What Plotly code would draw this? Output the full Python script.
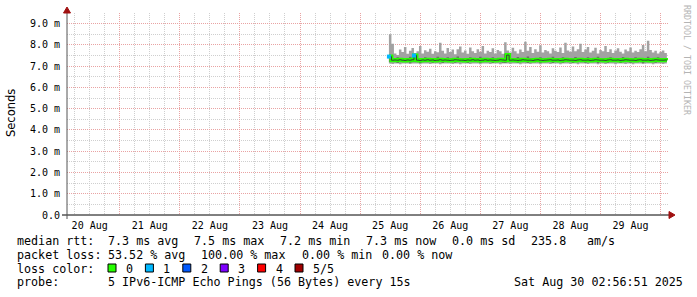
import plotly.graph_objects as go
import pandas as pd

# ---------------- data ----------------
series_start = "2025-08-25 11:30"
range_start = "2025-08-20 02:56:51"
range_end = "2025-08-30 02:56:51"

upper = [8.50, 8.05, 7.60, 7.52, 7.78, 7.66, 7.90, 7.58, 7.72, 7.85,
         7.62, 7.70, 7.95, 7.60, 7.75, 7.68, 7.82, 7.58, 7.70, 7.65,
         8.10, 7.72, 7.60, 7.85, 7.66, 7.78, 7.56, 7.80, 7.92, 7.64,
         7.74, 7.58, 7.88, 7.70, 7.62, 7.80, 7.68, 7.95, 7.60, 7.72,
         7.66, 7.84, 7.60, 7.76, 7.70, 7.58, 8.12, 7.74, 7.64, 7.86,
         7.70, 7.60, 7.78, 7.66, 8.15, 7.72, 7.90, 7.62, 7.80, 7.68,
         7.98, 7.64, 7.76, 7.70, 7.60, 7.84, 7.72, 7.66, 7.88, 7.62,
         8.10, 7.74, 7.68, 7.92, 7.70, 7.80, 8.05, 7.66, 7.78, 7.90,
         7.64, 7.72, 7.86, 7.60, 7.76, 7.70, 7.95, 7.66, 7.80, 7.62,
         7.74, 7.84, 7.68, 7.60, 7.78, 7.70, 7.88, 7.64, 7.72, 7.66,
         7.80, 8.00, 7.70, 8.20, 7.76, 7.64, 7.72, 7.60, 7.68, 7.74,
         7.62, 7.68]
lower = [7.12, 7.10, 7.13, 7.12, 7.09, 7.13, 7.12, 7.12, 7.10, 7.13,
         7.12, 7.13, 7.09, 7.12, 7.12, 7.13, 7.10, 7.12, 7.13, 7.12,
         7.09, 7.12, 7.13, 7.12, 7.12, 7.10, 7.13, 7.12, 7.09, 7.12,
         7.13, 7.12, 7.10, 7.12, 7.13, 7.12, 7.09, 7.12, 7.13, 7.12,
         7.10, 7.12, 7.13, 7.12, 7.09, 7.12, 7.12, 7.13, 7.10, 7.12,
         7.13, 7.12, 7.09, 7.12, 7.13, 7.12, 7.10, 7.12, 7.13, 7.12,
         7.09, 7.12, 7.13, 7.12, 7.10, 7.12, 7.13, 7.12, 7.09, 7.12,
         7.13, 7.12, 7.10, 7.12, 7.13, 7.09, 7.12, 7.13, 7.12, 7.10,
         7.12, 7.13, 7.12, 7.09, 7.12, 7.13, 7.10, 7.12, 7.12, 7.13,
         7.09, 7.12, 7.13, 7.12, 7.10, 7.12, 7.13, 7.09, 7.12, 7.12,
         7.13, 7.10, 7.12, 7.13, 7.12, 7.09, 7.12, 7.13, 7.12, 7.10,
         7.12, 7.13]
inner_hi = [7.45, 7.37, 7.36, 7.42, 7.36, 7.37, 7.36, 7.36, 7.44, 7.36,
            7.55, 7.37, 7.36, 7.36, 7.42, 7.36, 7.37, 7.36, 7.36, 7.44,
            7.37, 7.36, 7.36, 7.42, 7.36, 7.37, 7.36, 7.45, 7.36, 7.36,
            7.37, 7.36, 7.42, 7.36, 7.36, 7.37, 7.44, 7.36, 7.36, 7.37,
            7.36, 7.42, 7.36, 7.36, 7.37, 7.36, 7.58, 7.62, 7.36, 7.37,
            7.36, 7.43, 7.36, 7.36, 7.37, 7.45, 7.36, 7.36, 7.37, 7.36,
            7.42, 7.36, 7.36, 7.37, 7.36, 7.44, 7.36, 7.36, 7.37, 7.42,
            7.36, 7.36, 7.37, 7.36, 7.43, 7.36, 7.36, 7.37, 7.36, 7.42,
            7.36, 7.36, 7.37, 7.44, 7.36, 7.36, 7.37, 7.36, 7.42, 7.36,
            7.36, 7.37, 7.36, 7.43, 7.36, 7.36, 7.37, 7.36, 7.42, 7.36,
            7.36, 7.37, 7.36, 7.44, 7.36, 7.36, 7.37, 7.42, 7.36, 7.36,
            7.37, 7.36]
inner_lo = [7.20, 7.19, 7.20, 7.15, 7.20, 7.19, 7.20, 7.20, 7.16, 7.20,
            7.19, 7.20, 7.15, 7.20, 7.20, 7.19, 7.20, 7.16, 7.20, 7.20,
            7.19, 7.15, 7.20, 7.20, 7.19, 7.20, 7.16, 7.20, 7.20, 7.19,
            7.20, 7.15, 7.20, 7.19, 7.20, 7.20, 7.16, 7.20, 7.19, 7.20,
            7.20, 7.15, 7.20, 7.19, 7.20, 7.16, 7.15, 7.20, 7.19, 7.20,
            7.20, 7.16, 7.20, 7.19, 7.20, 7.15, 7.20, 7.20, 7.19, 7.20,
            7.16, 7.20, 7.19, 7.20, 7.20, 7.15, 7.20, 7.19, 7.20, 7.16,
            7.20, 7.20, 7.19, 7.15, 7.20, 7.20, 7.19, 7.20, 7.16, 7.20,
            7.19, 7.20, 7.20, 7.15, 7.20, 7.19, 7.20, 7.16, 7.20, 7.20,
            7.19, 7.20, 7.15, 7.20, 7.20, 7.19, 7.16, 7.20, 7.20, 7.19,
            7.20, 7.15, 7.20, 7.19, 7.20, 7.20, 7.16, 7.20, 7.19, 7.20,
            7.20, 7.19]
median = [7.45, 7.28, 7.29, 7.28, 7.30, 7.28, 7.27, 7.29, 7.28, 7.30,
          7.50, 7.28, 7.27, 7.29, 7.28, 7.30, 7.28, 7.29, 7.27, 7.28,
          7.30, 7.28, 7.29, 7.28, 7.27, 7.28, 7.30, 7.29, 7.28, 7.28,
          7.27, 7.29, 7.28, 7.30, 7.28, 7.29, 7.27, 7.28, 7.30, 7.28,
          7.29, 7.28, 7.27, 7.28, 7.30, 7.29, 7.28, 7.52, 7.28, 7.29,
          7.28, 7.27, 7.28, 7.30, 7.29, 7.28, 7.28, 7.27, 7.29, 7.30,
          7.28, 7.27, 7.28, 7.29, 7.30, 7.28, 7.28, 7.29, 7.27, 7.28,
          7.30, 7.29, 7.28, 7.28, 7.27, 7.29, 7.30, 7.28, 7.28, 7.29,
          7.27, 7.28, 7.30, 7.29, 7.28, 7.28, 7.27, 7.29, 7.30, 7.28,
          7.28, 7.29, 7.27, 7.28, 7.30, 7.29, 7.28, 7.28, 7.27, 7.29,
          7.30, 7.28, 7.28, 7.29, 7.27, 7.28, 7.30, 7.29, 7.28, 7.28,
          7.29, 7.28]
loss = [1, 0, 0, 0, 0, 0, 0, 0, 0, 0, 1] + [0] * 101

y_tick_vals = [0, 1, 2, 3, 4, 5, 6, 7, 8, 9]
y_tick_text = ["0.0", "1.0 m", "2.0 m", "3.0 m", "4.0 m", "5.0 m",
               "6.0 m", "7.0 m", "8.0 m", "9.0 m"]

loss_labels = ["0", "1", "2", "3", "4", "5/5"]
loss_colors = ["#26ff00", "#00b8ff", "#0059ff", "#7e00ff", "#ff0000", "#a00000"]

legend_rows = [
    [("median rtt:", 16), ("7.3 ms avg", 107), ("7.5 ms max", 193),
     ("7.2 ms min", 279), ("7.3 ms now", 365), ("0.0 ms sd", 451),
     ("235.8", 530), ("am/s", 586)],
    [("packet loss:", 16), ("53.52 % avg", 107), ("100.00 % max", 200),
     ("0.00 % min", 301), ("0.00 % now", 381)],
    [("loss color:", 16)],
    [("probe:", 16), ("5 IPv6-ICMP Echo Pings (56 Bytes) every 15s", 107),
     ("Sat Aug 30 02:56:51 2025", 513)],
]

times = pd.date_range(series_start, periods=len(median), freq="60min")

# ---------------- geometry helpers ----------------
W, H = 697, 297
L, R, T, B = 67, 29, 13, 82
PW, PH = W - L - R, H - T - B


def px(x):
    return (x - L) / PW


def py(y):
    return (H - B - y) / PH


MONO = "DejaVu Sans Mono"
fig = go.Figure()

# outer smoke
fig.add_trace(go.Scatter(x=times, y=lower, mode="lines", line=dict(width=0, shape="hv"),
                         showlegend=False, hoverinfo="skip"))
fig.add_trace(go.Scatter(x=times, y=upper, mode="lines", line=dict(width=0, shape="hv"),
                         fill="tonexty", fillcolor="#a2a2a2", showlegend=False, hoverinfo="skip"))
# inner smoke
fig.add_trace(go.Scatter(x=times, y=inner_lo, mode="lines", line=dict(width=0, shape="hv"),
                         showlegend=False, hoverinfo="skip"))
fig.add_trace(go.Scatter(x=times, y=inner_hi, mode="lines", line=dict(width=0, shape="hv"),
                         fill="tonexty", fillcolor="#6c6c6c", showlegend=False, hoverinfo="skip"))
# median coloured by loss (0 -> green)
fig.add_trace(go.Scatter(x=times, y=median, mode="lines",
                         line=dict(width=4, color=loss_colors[0], shape="hv"),
                         showlegend=False, hoverinfo="skip"))
fig.add_trace(go.Scatter(x=times, y=median, mode="lines",
                         line=dict(width=1, color="#3a3a3a", shape="hv"),
                         showlegend=False, hoverinfo="skip"))
for k in range(1, 6):
    xs = [t for t, l in zip(times, loss) if l == k]
    ys = [m for m, l in zip(median, loss) if l == k]
    if xs:
        fig.add_trace(go.Scatter(x=xs, y=ys, mode="markers",
                                 marker=dict(symbol="square", size=4, color=loss_colors[k]),
                                 showlegend=False, hoverinfo="skip"))

grid_major = "#e9a3a3"
grid_minor = "#cfcfcf"

fig.update_layout(
    width=W, height=H,
    margin=dict(l=L, r=R, t=T, b=B, pad=0),
    paper_bgcolor="white", plot_bgcolor="white",
    showlegend=False,
    xaxis=dict(
        type="date", range=[range_start, range_end],
        showgrid=True, gridcolor=grid_major, griddash="1px,1px", gridwidth=1,
        tick0="2025-08-20", dtick=86400000, ticklabelmode="period",
        tickformat="%d %b", ticks="", ticklabelstandoff=3,
        tickfont=dict(family=MONO, size=10, color="#000"),
        zeroline=False, showline=False,
        minor=dict(tick0="2025-08-20", dtick=21600000, showgrid=True,
                   gridcolor=grid_minor, griddash="1px,1px", gridwidth=1, ticks=""),
    ),
    yaxis=dict(
        range=[0, 9.5], tickmode="array", tickvals=y_tick_vals, ticktext=y_tick_text,
        showgrid=True, gridcolor=grid_major, griddash="1px,1px", gridwidth=1,
        ticks="", ticklabelstandoff=6,
        tickfont=dict(family=MONO, size=10, color="#000"),
        zeroline=False, showline=False,
        minor=dict(dtick=0.5, showgrid=True, gridcolor=grid_minor,
                   griddash="1px,1px", gridwidth=1, ticks=""),
    ),
)

shapes = []
# x axis line + arrow
shapes.append(dict(type="line", xref="paper", yref="paper", x0=px(62), x1=px(670),
                   y0=py(215), y1=py(215), line=dict(color="#000", width=1)))
shapes.append(dict(type="path", xref="paper", yref="paper",
                   path=f"M {px(669)},{py(211.5)} L {px(675)},{py(215)} L {px(669)},{py(218.5)} Z",
                   fillcolor="#a01010", line=dict(color="#a01010", width=1)))
# y axis line + arrow
shapes.append(dict(type="line", xref="paper", yref="paper", x0=px(67), x1=px(67),
                   y0=py(219), y1=py(12), line=dict(color="#555", width=1)))
shapes.append(dict(type="path", xref="paper", yref="paper",
                   path=f"M {px(63.5)},{py(13)} L {px(67)},{py(7)} L {px(70.5)},{py(13)} Z",
                   fillcolor="#a01010", line=dict(color="#a01010", width=1)))
# loss colour boxes
for i, c in enumerate(loss_colors):
    bx = 108 + i * 37.4
    shapes.append(dict(type="rect", xref="paper", yref="paper",
                       x0=px(bx), x1=px(bx + 8), y0=py(272), y1=py(264),
                       fillcolor=c, line=dict(color="#000", width=1)))
fig.update_layout(shapes=shapes)

ann = []
row_y = [241, 255, 268.5, 282]
for r, row in enumerate(legend_rows):
    for text, x in row:
        ann.append(dict(text=text.replace(" ", "\u00a0"), x=px(x), y=py(row_y[r]),
                        xref="paper", yref="paper", xanchor="left", yanchor="middle",
                        showarrow=False, borderpad=0,
                        font=dict(family=MONO, size=11.7, color="#000")))
for i, lab in enumerate(loss_labels):
    lx = 125 + i * 37.4
    ann.append(dict(text=lab, x=px(lx), y=py(268.5), xref="paper", yref="paper",
                    xanchor="left", yanchor="middle", showarrow=False, borderpad=0,
                    font=dict(family=MONO, size=11.7, color="#000")))
ann.append(dict(text="Seconds", x=px(11), y=py(113), xref="paper", yref="paper",
                xanchor="center", yanchor="middle", textangle=-90, showarrow=False,
                font=dict(family="DejaVu Sans", size=11.5, color="#000")))
ann.append(dict(text="RRDTOOL / TOBI OETIKER".replace(" ", "\u00a0"), x=px(687), y=py(60),
                xref="paper", yref="paper", xanchor="center", yanchor="middle",
                textangle=90, showarrow=False,
                font=dict(family=MONO, size=8.3, color="#b4b4b4")))
fig.update_layout(annotations=ann)

fig.write_html("out.html")
